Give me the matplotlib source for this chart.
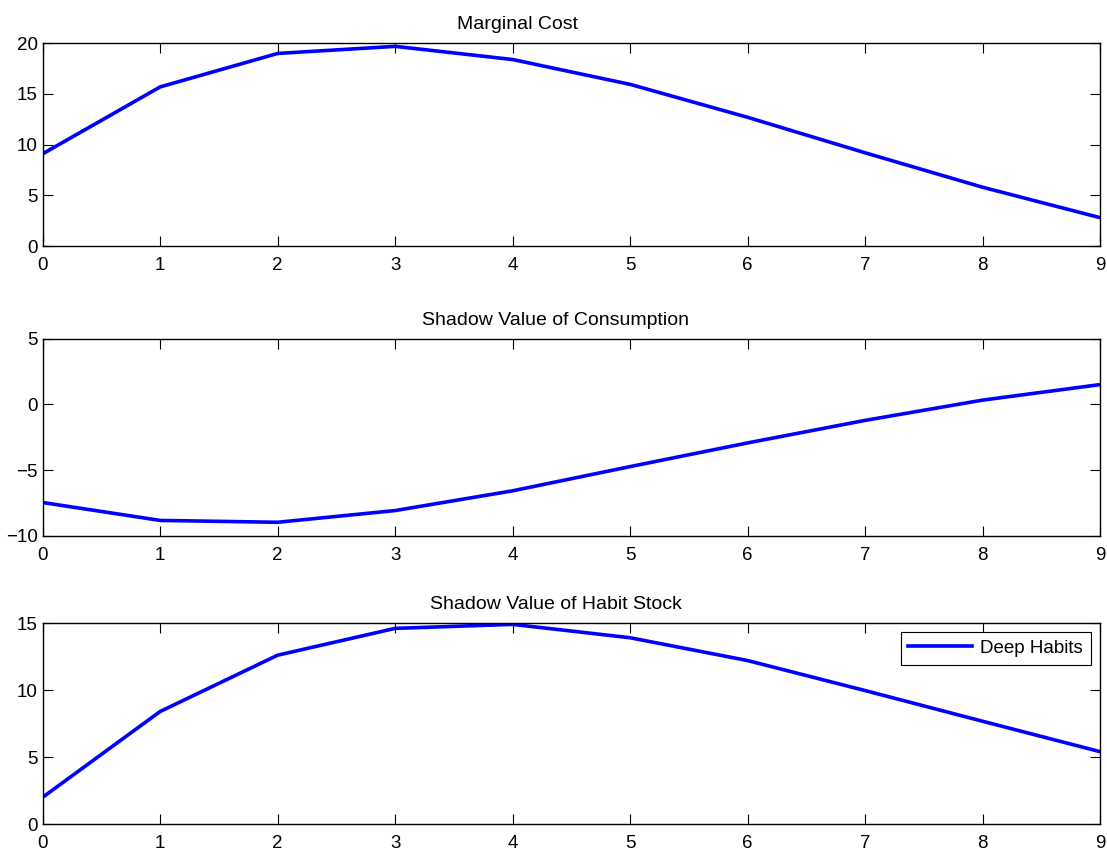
import matplotlib
matplotlib.use("Agg")
import matplotlib.pyplot as plt
import numpy as np

plt.rcParams['font.family'] = ['Liberation Sans', 'DejaVu Sans']
plt.rcParams['font.size'] = 13.5

periods = np.arange(10)
marginal_cost = [9.1, 15.7, 19.0, 19.7, 18.4, 15.95, 12.7, 9.2, 5.8, 2.8]
shadow_consumption = [-7.46, -8.82, -8.96, -8.07, -6.57, -4.73, -2.93, -1.22, 0.32, 1.5]
shadow_habit = [2.0, 8.4, 12.6, 14.6, 14.9, 13.9, 12.2, 9.96, 7.67, 5.4]

titles = ["Marginal Cost", "Shadow Value of Consumption", "Shadow Value of Habit Stock"]
series = [marginal_cost, shadow_consumption, shadow_habit]
ylims = [(0, 20), (-10, 5), (0, 15)]
# title centres as seen in the original (axes fraction), slightly left of middle
title_x = [0.449, 0.485, 0.485]

fig = plt.figure(figsize=(11.07, 8.51), dpi=100)
# axes boxes in figure fractions (left, bottom, width, height)
boxes = [(0.0386, 0.7109, 0.9551, 0.2382),
         (0.0386, 0.3702, 0.9551, 0.2320),
         (0.0386, 0.0317, 0.9551, 0.2362)]

for i, (box, title, y, lim) in enumerate(zip(boxes, titles, series, ylims)):
    ax = fig.add_axes(box)
    ax.plot(periods, y, color=(0, 0, 1), lw=2.6, label="Deep Habits")
    ax.set_xlim(0, 9)
    ax.set_ylim(*lim)
    ax.set_xticks(periods)
    ax.set_yticks(np.arange(lim[0], lim[1] + 1, 5))
    ax.tick_params(direction="in", length=7, width=0.8, top=True, right=True,
                   labelsize=13.5)
    ax.tick_params(axis="x", pad=8)
    ax.tick_params(axis="y", pad=3.5)
    for s in ax.spines.values():
        s.set_linewidth(1.0)
    ax.set_title(title, fontsize=14, pad=10, x=title_x[i])
    if i == 2:
        leg = ax.legend(loc="upper right", fontsize=13.5, fancybox=False,
                        framealpha=1, edgecolor="black", handlelength=3.4,
                        handletextpad=0.45, borderpad=0.4, borderaxespad=0.5)
        leg.get_frame().set_linewidth(0.8)

fig.savefig("out.png", dpi=100)
